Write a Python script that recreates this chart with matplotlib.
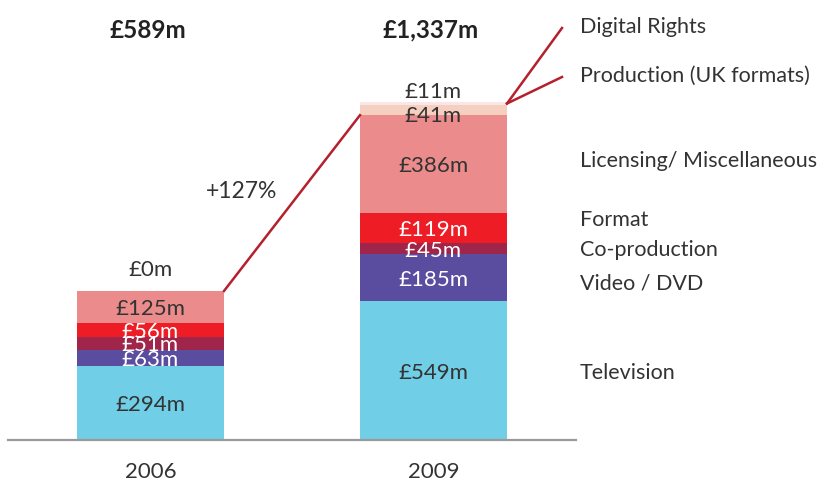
import matplotlib
matplotlib.use("Agg")
import matplotlib.pyplot as plt

plt.rcParams['font.family'] = ['Lato', 'DejaVu Sans']

years = ["2006", "2009"]
categories = ["Television", "Video / DVD", "Co-production", "Format",
              "Licensing/ Miscellaneous", "Production (UK formats)", "Digital Rights"]
values_2006 = [294, 63, 51, 56, 125, 0, 0]
values_2009 = [549, 185, 45, 119, 386, 41, 11]
totals = ["£589m", "£1,337m"]
growth = "+127%"
colors = ["#70CEE6", "#5A4C9E", "#A0254A", "#EE1C25", "#EC8B8B", "#F5CFC0", "#FAE6E6"]
label_colors = ["#333333", "white", "white", "white", "#333333", "#333333", "#333333"]

PX = 0.253          # pixels per £m
fig = plt.figure(figsize=(8.28, 4.84), dpi=100)
ax = fig.add_axes([0, 44 / 484, 1, 440 / 484])
ax.set_xlim(-150.5 / 283, (828 - 150.5) / 283)
ax.set_ylim(0, 440 / PX)
ax.axis('off')

xpos = [0, 1]
width = 147 / 283
series = [values_2006, values_2009]
FS = 16
RFS = 15.5
TXT = "#333333"
W = 'normal'

for xi, vals in zip(xpos, series):
    bottom = 0
    for k, v in enumerate(vals):
        if v > 0:
            ax.bar(xi, v, width=width, bottom=bottom, color=colors[k], linewidth=0)
        bottom += v

def seg_labels(xi, vals, skip_top):
    bottom = 0
    n = len(vals)
    for k, v in enumerate(vals):
        if k >= n - skip_top:
            break
        ax.text(xi, bottom + v / 2, f"£{v}m", ha='center', va='center_baseline',
                fontsize=FS, color=label_colors[k], fontweight=W)
        bottom += v
    return bottom

b = seg_labels(0, values_2006, 2)
ax.annotate(f"£{values_2006[5]}m", xy=(0, b), xytext=(0, 8), textcoords='offset points',
            ha='center', va='bottom', fontsize=FS, color=TXT, fontweight=W)

b = seg_labels(1, values_2009, 2)
ax.annotate(f"£{values_2009[5]}m", xy=(1, b + values_2009[5] / 2), xytext=(0, -3),
            textcoords='offset points', ha='center', va='center_baseline',
            fontsize=FS, color=TXT, fontweight=W)
top09 = sum(values_2009)
ax.annotate(f"£{values_2009[6]}m", xy=(1, top09), xytext=(0, 0), textcoords='offset points',
            ha='center', va='bottom', fontsize=FS, color=TXT, fontweight=W)

for xi, t in zip(xpos, totals):
    ax.text(xi - 0.01, (440 - 30) / PX, t, ha='center', va='center', fontsize=17.5,
            fontweight='bold', color='#222222')

ax.plot([-0.5035, 1.5035], [0, 0], color='#9a9a9a', lw=1.6, clip_on=False, zorder=3)

for xi, y in zip(xpos, years):
    ax.annotate(y, xy=(xi, 0), xytext=(0, -32 * 0.72), textcoords='offset points',
                ha='center', va='center', fontsize=FS, color=TXT, fontweight=W)

lic06 = sum(values_2006[:5])
lic09 = sum(values_2009[:5])
ax.plot([width / 2, 1 - width / 2], [lic06, lic09], color='#B5202E', lw=1.8, zorder=4)
ax.text((242 - 150.5) / 283, (440 - 192) / PX, growth, ha='center', va='center',
        fontsize=16.5, color=TXT, fontweight=W)

px0 = 1 + width / 2
py0 = sum(values_2009[:6]) + 5
ax.plot([px0, (562 - 150.5) / 283], [py0, (440 - 28) / PX], color='#B5202E', lw=1.8, clip_on=False)
ax.plot([px0, (562 - 150.5) / 283], [py0, (440 - 77) / PX], color='#B5202E', lw=1.8, clip_on=False)

label_y_px = [373, 283, 250, 220, 161, 76, 27]
for cat, ypx in zip(categories, label_y_px):
    ax.text((580 - 150.5) / 283, (440 - ypx) / PX, cat, ha='left', va='center',
            fontsize=RFS, color=TXT, fontweight=W)

fig.savefig("out.png", dpi=100)
